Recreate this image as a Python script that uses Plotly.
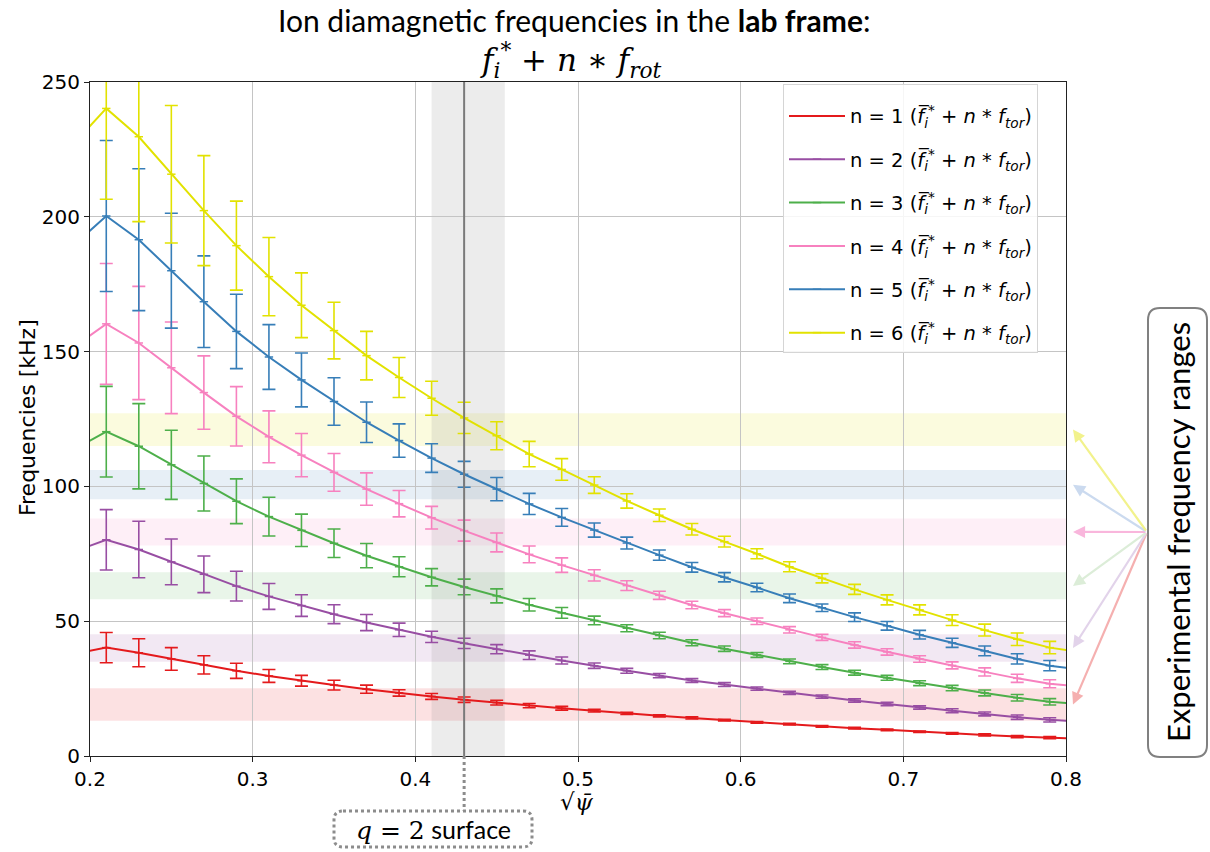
import plotly.graph_objects as go

# ---------------- data ----------------
x = [0.19, 0.21, 0.23, 0.25, 0.27, 0.29, 0.31, 0.33, 0.35, 0.37, 0.39, 0.41, 0.43, 0.45, 0.47, 0.49,
     0.51, 0.53, 0.55, 0.57, 0.59, 0.61, 0.63, 0.65, 0.67, 0.69, 0.71, 0.73, 0.75, 0.77, 0.79, 0.81]

n1 = [37.9, 40.2, 38.3, 36.0, 33.8, 31.6, 29.7, 27.9, 26.3, 24.8, 23.4, 22.1, 20.9, 19.8, 18.7, 17.7,
      16.8, 15.8, 14.9, 14.1, 13.3, 12.5, 11.8, 11.0, 10.3, 9.7, 9.0, 8.4, 7.8, 7.2, 6.8, 6.4]
n2 = [75.8, 80.2, 76.6, 72.0, 67.4, 63.0, 59.2, 55.8, 52.6, 49.5, 46.8, 44.2, 41.8, 39.6, 37.4, 35.4,
      33.5, 31.6, 29.8, 28.0, 26.5, 25.0, 23.4, 22.0, 20.6, 19.3, 18.0, 16.8, 15.6, 14.4, 13.4, 12.8]
n3 = [113.7, 120.3, 114.9, 108.0, 101.1, 94.5, 88.8, 83.7, 78.9, 74.3, 70.2, 66.3, 62.7, 59.4, 56.1, 53.1,
      50.3, 47.4, 44.7, 42.0, 39.8, 37.5, 35.1, 33.0, 30.9, 29.0, 27.0, 25.2, 23.4, 21.6, 20.1, 19.2]
n4 = [151.6, 160.3, 153.2, 144.0, 134.8, 126.0, 118.4, 111.6, 105.2, 99.0, 93.6, 88.4, 83.6, 79.2, 74.8, 70.8,
      67.0, 63.2, 59.6, 56.0, 53.0, 50.0, 46.8, 44.0, 41.2, 38.6, 36.0, 33.6, 31.2, 28.8, 26.8, 25.6]
n5 = [189.5, 200.3, 191.5, 180.0, 168.5, 157.5, 148.0, 139.5, 131.5, 123.8, 117.0, 110.5, 104.5, 99.0, 93.5, 88.5,
      83.8, 79.0, 74.5, 70.0, 66.3, 62.5, 58.5, 55.0, 51.5, 48.3, 45.0, 42.0, 39.0, 36.0, 33.5, 32.0]
n6 = [227.2, 240.2, 229.7, 215.8, 202.3, 189.3, 177.8, 167.2, 157.8, 148.5, 140.4, 132.7, 125.4, 118.8, 112.0, 106.3,
      100.5, 94.6, 89.3, 84.1, 79.5, 75.0, 70.2, 65.9, 61.8, 57.9, 54.2, 50.4, 46.7, 43.3, 40.2, 38.4]

e1 = [5.8, 5.6, 5.2, 4.2, 3.4, 2.8, 2.4, 2.0, 1.8, 1.5, 1.2, 1.1, 1.0, 0.9, 0.8, 0.7,
      0.5, 0.4, 0.4, 0.4, 0.3, 0.3, 0.3, 0.3, 0.3, 0.3, 0.3, 0.3, 0.4, 0.4, 0.4, 0.4]
e2 = [11.6, 11.2, 10.5, 8.5, 6.8, 5.5, 4.8, 4.0, 3.5, 3.0, 2.5, 2.1, 1.9, 1.7, 1.6, 1.3,
      1.0, 0.9, 0.8, 0.7, 0.7, 0.6, 0.6, 0.6, 0.6, 0.6, 0.6, 0.7, 0.7, 0.8, 0.8, 0.8]
e3 = [17.4, 16.8, 15.8, 12.8, 10.2, 8.3, 7.2, 6.0, 5.3, 4.5, 3.7, 3.2, 2.9, 2.6, 2.3, 2.0,
      1.6, 1.3, 1.2, 1.1, 1.0, 0.9, 0.9, 0.9, 0.9, 0.9, 0.9, 1.0, 1.1, 1.2, 1.2, 1.2]
e4 = [23.2, 22.4, 21.0, 17.0, 13.6, 11.0, 9.6, 8.0, 7.0, 6.0, 4.9, 4.2, 3.9, 3.5, 3.1, 2.7,
      2.1, 1.8, 1.5, 1.4, 1.3, 1.2, 1.2, 1.1, 1.2, 1.2, 1.2, 1.3, 1.5, 1.5, 1.5, 1.5]
e5 = [29.0, 28.0, 26.3, 21.3, 17.0, 13.8, 12.0, 10.0, 8.8, 7.5, 6.2, 5.3, 4.8, 4.3, 3.9, 3.3,
      2.6, 2.2, 1.9, 1.8, 1.7, 1.6, 1.6, 1.4, 1.6, 1.6, 1.6, 1.7, 1.8, 1.9, 1.9, 1.9]
e6 = [35.0, 33.7, 31.5, 25.5, 20.4, 16.5, 14.5, 12.0, 10.5, 9.0, 7.4, 6.3, 5.8, 5.2, 4.7, 4.0,
      3.1, 2.65, 2.3, 2.15, 2.0, 1.85, 1.85, 1.7, 1.85, 1.85, 1.85, 2.0, 2.2, 2.3, 2.3, 2.3]

series_values = [n1, n2, n3, n4, n5, n6]
series_errors = [e1, e2, e3, e4, e5, e6]
mode_numbers = [1, 2, 3, 4, 5, 6]
colors = ["#e41a1c", "#984ea3", "#4daf4a", "#f781bf", "#377eb8", "#e2e200"]
arrow_colors = ["#f5b0b0", "#e2d3ea", "#dcedd8", "#f9b6dc", "#cbdaef", "#f2f28c"]
band_colors = ["rgba(228,26,28,0.13)", "rgba(152,78,163,0.13)", "rgba(77,175,74,0.12)",
               "rgba(247,129,191,0.13)", "rgba(55,126,184,0.12)", "rgba(226,226,0,0.13)"]

# experimental frequency ranges [kHz]
band_low = [13.1, 35.0, 58.1, 78.1, 95.2, 115.0]
band_high = [25.1, 45.2, 68.2, 88.1, 106.1, 127.1]
band_arrow_y = [19.1, 40.1, 63.1, 83.1, 100.6, 121.1]

q2_x = 0.43
q2_band = [0.41, 0.455]

x_ticks = [0.2, 0.3, 0.4, 0.5, 0.6, 0.7, 0.8]
y_ticks = [0, 50, 100, 150, 200, 250]

# ---------------- layout geometry ----------------
W, H = 1210, 852
ML, MR, MT, MB = 90, 144, 82, 96
PW, PH = W - ML - MR, H - MT - MB


def px2x(px):
    return (px - ML) / PW


def px2y(py):
    return (H - MB - py) / PH


fig = go.Figure()

for n, vals, errs, col in zip(mode_numbers, series_values, series_errors, colors):
    name = ("n = %d (<i>f\u0305</i><sub><i>i</i></sub><sup>*</sup> + <i>n</i> * "
            "<i>f</i><sub><i>tor</i></sub>)" % n)
    fig.add_trace(go.Scatter(
        x=x, y=vals, mode="lines+markers", name=name, legendgroup="g%d" % n,
        line=dict(color=col, width=2),
        marker=dict(symbol="line-ew", size=6, line=dict(color=col, width=1.5)),
        error_y=dict(type="data", array=errs, visible=True, color=col, thickness=1.6, width=6.5),
    ))

# bands
for lo, hi, bc in zip(band_low, band_high, band_colors):
    fig.add_shape(type="rect", xref="paper", yref="y", x0=0, x1=1, y0=lo, y1=hi,
                  fillcolor=bc, line_width=0, layer="below")

# q=2 grey band and line
fig.add_shape(type="rect", xref="x", yref="paper", x0=q2_band[0], x1=q2_band[1], y0=0, y1=1,
              fillcolor="rgba(128,128,128,0.15)", line_width=0, layer="below")
fig.add_shape(type="line", xref="x", yref="paper", x0=q2_x, x1=q2_x, y0=0, y1=1,
              line=dict(color="#7a7a7a", width=2))
# dotted connector to label
fig.add_shape(type="line", xref="x", yref="paper", x0=q2_x, x1=q2_x, y0=0, y1=px2y(811),
              line=dict(color="#8c8c8c", width=3, dash="dot"))


def rounded_rect(x0p, y0p, x1p, y1p, r):
    X = lambda v: px2x(v)
    Y = lambda v: px2y(v)
    p = (f"M {X(x0p + r)} {Y(y0p)} L {X(x1p - r)} {Y(y0p)} "
         f"Q {X(x1p)} {Y(y0p)} {X(x1p)} {Y(y0p + r)} "
         f"L {X(x1p)} {Y(y1p - r)} Q {X(x1p)} {Y(y1p)} {X(x1p - r)} {Y(y1p)} "
         f"L {X(x0p + r)} {Y(y1p)} Q {X(x0p)} {Y(y1p)} {X(x0p)} {Y(y1p - r)} "
         f"L {X(x0p)} {Y(y0p + r)} Q {X(x0p)} {Y(y0p)} {X(x0p + r)} {Y(y0p)} Z")
    return p


fig.add_shape(type="path", xref="paper", yref="paper", path=rounded_rect(334, 811, 532, 847, 9),
              line=dict(color="#8c8c8c", width=3, dash="dot"), fillcolor="rgba(0,0,0,0)")
fig.add_shape(type="path", xref="paper", yref="paper", path=rounded_rect(1148, 308, 1207, 757, 12),
              line=dict(color="#808080", width=2), fillcolor="rgba(0,0,0,0)")

annotations = []
# title
annotations.append(dict(xref="paper", yref="paper", x=px2x(574), y=px2y(20), showarrow=False,
                        text="Ion diamagnetic frequencies in the <b>lab frame</b>:",
                        font=dict(family="Lato", size=30, color="black"),
                        xanchor="center", yanchor="middle"))
annotations.append(dict(xref="paper", yref="paper", x=px2x(571), y=px2y(60), showarrow=False,
                        text="<i>f</i><sub><i>i</i></sub><sup>*</sup> + <i>n</i> \u2217 "
                             "<i>f</i><sub><i>rot</i></sub>",
                        font=dict(family="DejaVu Serif", size=31, color="black"),
                        xanchor="center", yanchor="middle"))
# axis titles
annotations.append(dict(xref="paper", yref="paper", x=px2x(577), y=px2y(802), showarrow=False,
                        text="\u221A<i>\u03C8\u0304</i>",
                        font=dict(family="DejaVu Serif", size=23, color="black"),
                        xanchor="center", yanchor="middle"))
annotations.append(dict(xref="paper", yref="paper", x=px2x(27), y=px2y(418), showarrow=False,
                        text="Frequencies [kHz]", textangle=-90,
                        font=dict(family="DejaVu Sans", size=22, color="black"),
                        xanchor="center", yanchor="middle"))
# q=2 label
annotations.append(dict(xref="paper", yref="paper", x=px2x(433), y=px2y(830), showarrow=False,
                        text="<span style='font-family:DejaVu Serif'><i>q</i> = 2</span> surface",
                        font=dict(family="Lato", size=25, color="black"),
                        xanchor="center", yanchor="middle"))
# right box label
annotations.append(dict(xref="paper", yref="paper", x=px2x(1178), y=px2y(532), showarrow=False,
                        text="Experimental frequency ranges", textangle=-90,
                        font=dict(family="Lato", size=31, color="black"),
                        xanchor="center", yanchor="middle"))
# arrows
tail_px = (1147, 532)
for ay_val, ac in zip(band_arrow_y, arrow_colors):
    tip_py = (H - MB) - ay_val * PH / 250.0
    tip_px = 1073
    annotations.append(dict(xref="paper", yref="paper", x=px2x(tip_px), y=px2y(tip_py),
                            ax=tail_px[0] - tip_px, ay=tail_px[1] - tip_py,
                            axref="pixel", ayref="pixel", text="", showarrow=True,
                            arrowhead=2, arrowsize=1.1, arrowwidth=2.2, arrowcolor=ac,
                            standoff=0, startstandoff=0))

fig.update_layout(
    width=W, height=H,
    margin=dict(l=ML, r=MR, t=MT, b=MB),
    plot_bgcolor="white", paper_bgcolor="white",
    font=dict(family="DejaVu Sans", size=18, color="black"),
    showlegend=True,
    legend=dict(x=px2x(783), y=px2y(84), xanchor="left", yanchor="top",
                bgcolor="rgba(255,255,255,0.85)", bordercolor="#d5d5d5", borderwidth=1,
                font=dict(family="DejaVu Sans", size=19.5), itemwidth=56,
                title=dict(text="\u00a0", font=dict(size=9)),
                tracegroupgap=15),
    annotations=annotations,
)
fig.update_xaxes(range=[0.2, 0.8], tickvals=x_ticks, ticktext=["%.1f" % v for v in x_ticks],
                 showgrid=True, gridcolor="#c4c4c4", gridwidth=1,
                 showline=True, linecolor="#222", linewidth=1.2, mirror=True,
                 ticks="outside", ticklen=5, tickcolor="#222",
                 tickfont=dict(family="DejaVu Sans", size=20), zeroline=False)
fig.update_yaxes(range=[0, 250], tickvals=y_ticks,
                 showgrid=True, gridcolor="#c4c4c4", gridwidth=1,
                 showline=True, linecolor="#222", linewidth=1.2, mirror=True,
                 ticks="outside", ticklen=5, tickcolor="#222",
                 tickfont=dict(family="DejaVu Sans", size=20), zeroline=False)

fig.write_html("out.html", config={"displayModeBar": False},
               post_script="document.body.style.margin='0';document.body.style.padding='0';"
                           "document.body.style.overflow='hidden';")
